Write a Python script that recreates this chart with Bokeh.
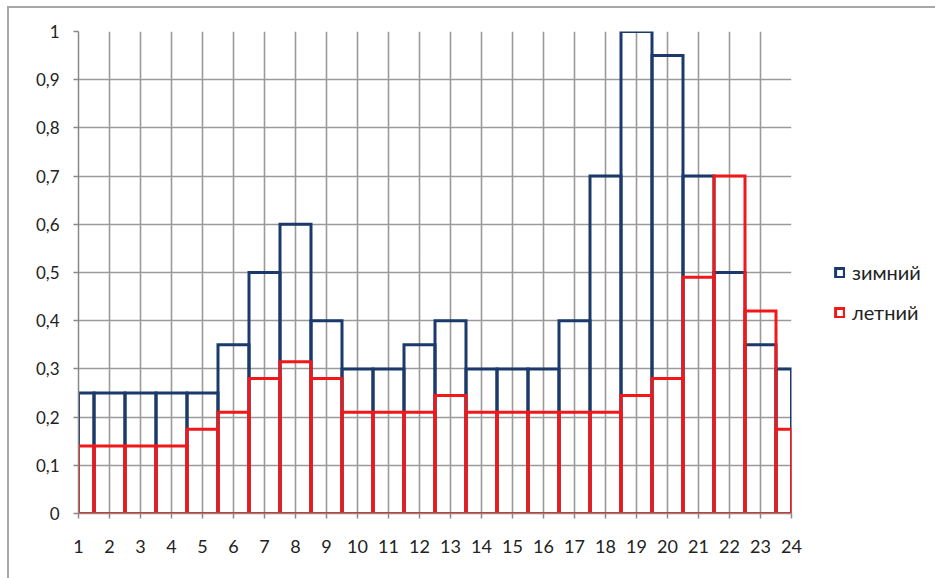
from bokeh.plotting import figure
from bokeh.layouts import row
from bokeh.models import Range1d, FixedTicker, Legend, LegendItem
from bokeh.embed import file_html
from bokeh.resources import INLINE

# ---- data ----
hours = list(range(1, 25))
winter = [0.25, 0.25, 0.25, 0.25, 0.25, 0.35, 0.5, 0.6, 0.4, 0.3, 0.3, 0.35,
          0.4, 0.3, 0.3, 0.3, 0.4, 0.7, 1.0, 0.95, 0.7, 0.5, 0.35, 0.3]
summer = [0.14, 0.14, 0.14, 0.14, 0.175, 0.21, 0.28, 0.315, 0.28, 0.21, 0.21, 0.21,
          0.245, 0.21, 0.21, 0.21, 0.21, 0.21, 0.245, 0.28, 0.49, 0.7, 0.42, 0.175]
series_names = ["зимний", "летний"]
y_ticks = [0, 0.1, 0.2, 0.3, 0.4, 0.5, 0.6, 0.7, 0.8, 0.9, 1]
y_labels = ["0", "0,1", "0,2", "0,3", "0,4", "0,5", "0,6", "0,7", "0,8", "0,9", "1"]

BLUE = "#1B3A6B"
RED = "#F01818"
GRID = "#9A9A9A"
AXIS = "#888888"
TEXT = "#222222"
FONT = "Lato, 'Open Sans', sans-serif"

# ---- main chart ----
p = figure(width=796, height=570, output_backend="svg", toolbar_location=None,
           x_range=Range1d(1, 24), y_range=Range1d(0, 1),
           min_border_left=69, min_border_top=23, min_border_right=14, min_border_bottom=65)
p.outline_line_color = None
p.background_fill_color = "white"
p.border_fill_color = "white"

bar_style = dict(width=1, fill_alpha=0, line_width=3, line_join="miter")
rw = p.vbar(x=hours, top=winter, bottom=-0.05, line_color=BLUE, **bar_style)
rs = p.vbar(x=hours, top=summer, bottom=-0.05, line_color=RED, **bar_style)

p.xaxis.ticker = FixedTicker(ticks=hours)
p.yaxis.ticker = FixedTicker(ticks=y_ticks)
p.yaxis.major_label_overrides = {t: l for t, l in zip(y_ticks, y_labels)}

for ax in (p.xaxis, p.yaxis):
    ax.axis_line_color = AXIS
    ax.axis_line_width = 1.5
    ax.major_tick_line_color = AXIS
    ax.major_tick_line_width = 1.5
    ax.major_tick_out = 5
    ax.major_tick_in = 0
    ax.minor_tick_line_color = None
    ax.major_label_text_font = FONT
    ax.major_label_text_color = TEXT
p.xaxis.major_label_text_font_size = "18px"
p.xaxis.major_label_standoff = 21
p.yaxis.major_label_text_font_size = "17px"
p.yaxis.major_label_standoff = 14

p.xgrid.grid_line_color = GRID
p.xgrid.grid_line_width = 1.6
p.ygrid.grid_line_color = GRID
p.ygrid.grid_line_width = 1.6

# ---- legend panel (same series as hidden renderers; only the legend shows) ----
lp = figure(width=130, height=570, output_backend="svg", toolbar_location=None,
            x_range=Range1d(1, 24), y_range=Range1d(0, 1), min_border=0)
lp.axis.visible = False
lp.grid.visible = False
lp.outline_line_color = None
lp.background_fill_color = "white"
lp.border_fill_color = "white"
lw = lp.vbar(x=hours, top=winter, bottom=0, line_color=BLUE, **bar_style)
ls = lp.vbar(x=hours, top=summer, bottom=0, line_color=RED, **bar_style)
lw.visible = False
ls.visible = False

legend = Legend(items=[LegendItem(label=series_names[0], renderers=[lw]),
                       LegendItem(label=series_names[1], renderers=[ls])],
                location=(29, 189))
legend.glyph_width = 11
legend.glyph_height = 11
legend.label_height = 20
legend.label_standoff = 7
legend.spacing = 16
legend.padding = 0
legend.margin = 0
legend.border_line_alpha = 0
legend.background_fill_alpha = 0
legend.inactive_fill_alpha = 0
legend.label_text_font = FONT
legend.label_text_font_size = "20px"
legend.label_text_color = TEXT
lp.add_layout(legend)

layout = row(p, lp)
layout.margin = (6, 0, 0, 7)
layout.styles = {"border-left": "2px solid #A8A8A8", "border-top": "2px solid #A8A8A8"}

open("out.html", "w").write(file_html(layout, INLINE))
